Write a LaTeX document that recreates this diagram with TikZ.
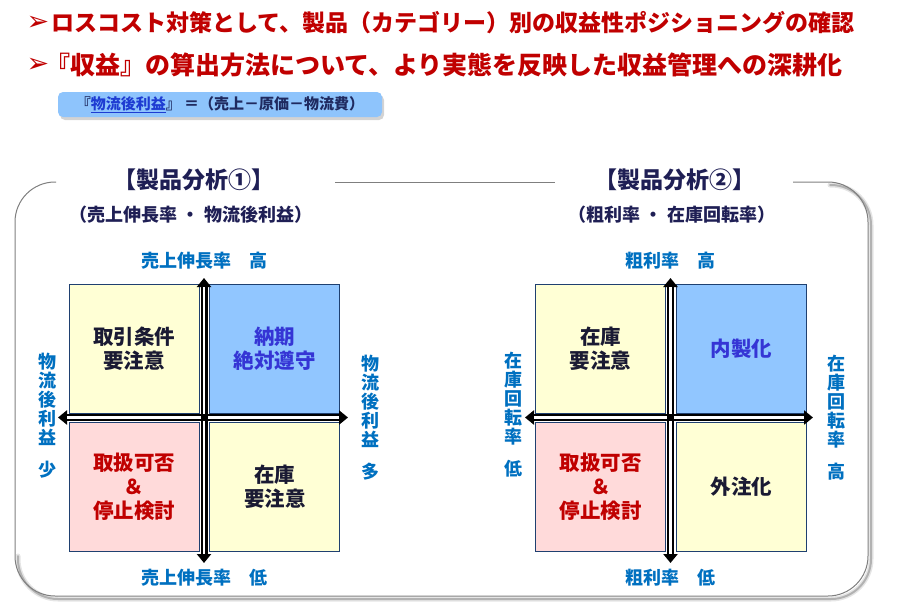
\documentclass[tikz,border=0pt]{standalone}
\usepackage{fontspec}
\setmainfont{Noto Sans CJK JP}[BoldFont={Noto Sans CJK JP Black}]
\newfontfamily\symfont{DejaVu Sans}
\usetikzlibrary{arrows.meta, shadows, positioning}
\definecolor{headred}{HTML}{C00000}
\definecolor{titlenavy}{HTML}{1F1F55}
\definecolor{axisblue}{HTML}{0070C0}
\definecolor{gridnavy}{HTML}{1F4070}
\definecolor{paleyellow}{HTML}{FFFFD5}
\definecolor{skyblue}{HTML}{91C6FF}
\definecolor{palepink}{HTML}{FFDADA}
\definecolor{keepblue}{HTML}{3535D5}
\definecolor{framegray}{HTML}{7F7F7F}
\definecolor{formulabg}{HTML}{8EC4FC}
\definecolor{formulanavy}{HTML}{1F2A60}
\definecolor{linkblue}{HTML}{1E3CD2}
\definecolor{textdark}{HTML}{1A1A33}

\begin{document}
\begin{tikzpicture}[x=1pt, y=-1pt,
  headmark/.style={inner sep=0pt, text=headred, font=\symfont\fontsize{27}{27}\selectfont},
  headline/.style={inner sep=0pt, anchor=west, text=headred, font=\fontsize{#1}{26}\selectfont\bfseries},
  formula/.style={fill=formulabg, rounded corners=5pt, minimum width=324pt, minimum height=25pt, inner sep=0pt,
    drop shadow={shadow xshift=2pt, shadow yshift=-3pt, opacity=0.35}, font=\fontsize{15}{16}\selectfont\bfseries},
  title/.style={inner sep=0pt, text=titlenavy, font=\fontsize{23}{25}\selectfont\bfseries},
  subtitle/.style={inner sep=0pt, text=titlenavy, font=\fontsize{18}{20}\selectfont\bfseries},
  frameline/.style={draw=framegray, line width=1pt, rounded corners=40pt},
  frameshadow/.style={line width=#1, rounded corners=40pt, line cap=round},
  quad/.style={draw=gridnavy, line width=0.8pt, minimum width=130pt, minimum height=129pt, inner sep=0pt,
    align=center, font=\fontsize{20.5}{24}\selectfont\bfseries},
  axislabel/.style={inner sep=0pt, text=axisblue, font=\fontsize{18}{20}\selectfont\bfseries},
  sidelabel/.style={inner sep=0pt, align=center, text=axisblue, font=\fontsize{18}{19}\selectfont\bfseries},
  axisout/.style={line width=7pt, black, {Triangle[width=14pt,length=9pt]}-{Triangle[width=14pt,length=9pt]}},
  axisin/.style={line width=2.5pt, white, shorten <=9pt, shorten >=9pt}
]
\useasboundingbox (0,0) rectangle (922,606);

\node[headmark] (mark1) at (38,23) {➢};
\node[headline=23] (head1) at (51,23) {ロスコスト対策として、製品（カテゴリー）別の収益性ポジショニングの確認};
\node[headmark] (mark2) at (38,65) {➢};
\node[headline=25] (head2) at (45,65) {『収益』の算出方法について、より実態を反映した収益管理への深耕化};

\node[formula] (formula) at (220,104.5) {\textcolor{formulanavy}{『}\textcolor{linkblue}{\underline{物流後利益}}\textcolor{formulanavy}{』 ＝（売上－原価－物流費）}};

\draw[frameshadow=5pt, gray!20] (18,556) -- (18,599) -- (871,599) -- (871,185) -- (830,185);
\draw[frameshadow=2pt, gray!60] (18,556) -- (18,599) -- (871,599) -- (871,185) -- (830,185);
\draw[frameline] (56,182) -- (15,182) -- (15,596) -- (868,596) -- (868,182) -- (793,182);
\draw[frameline] (335,182) -- (555,182);

\node[title] (title1) at (193.5,180) {【製品分析①】};
\node[subtitle] (sub1) at (191,215) {（売上伸長率 ・ 物流後利益）};
\node[title] (title2) at (674.5,180) {【製品分析②】};
\node[subtitle] (sub2) at (672,215) {（粗利率 ・ 在庫回転率）};

% matrix 1
\node[quad, fill=paleyellow, text=textdark] (q1tl) at (134,349) {取引条件\\要注意};
\node[quad, fill=skyblue, text=keepblue, right=10pt of q1tl] (q1tr) {納期\\絶対遵守};
\node[quad, fill=palepink, text=headred, below=8pt of q1tl] (q1bl) {取扱可否\\＆\\停止検討};
\node[quad, fill=paleyellow, text=textdark, below=8pt of q1tr] (q1br) {在庫\\要注意};

\coordinate (v1top) at (204,278);
\coordinate (v1bot) at (204,563);
\coordinate (h1left) at (58,417.5);
\coordinate (h1right) at (348,417.5);
\coordinate (c1) at (204,417.5);
\draw[axisout] (h1left) -- (h1right);
\draw[axisout] (v1top) -- (v1bot);
\draw[axisin] (h1left) -- (h1right);
\draw[axisin] (v1top) -- (v1bot);
\fill (c1) ++(-3.5,-3.5) rectangle ++(7,7);

\node[axislabel] (y1hi) at (204,261) {売上伸長率　高};
\node[axislabel] (y1lo) at (204,578) {売上伸長率　低};
\node[sidelabel] (x1lo) at (47,416) {物\\流\\後\\利\\益\\[13pt]少};
\node[sidelabel] (x1hi) at (370,418) {物\\流\\後\\利\\益\\[13pt]多};

% matrix 2
\node[quad, fill=paleyellow, text=textdark] (q2tl) at (600.5,349) {在庫\\要注意};
\node[quad, fill=skyblue, text=keepblue, right=10pt of q2tl] (q2tr) {内製化};
\node[quad, fill=palepink, text=headred, below=8pt of q2tl] (q2bl) {取扱可否\\＆\\停止検討};
\node[quad, fill=paleyellow, text=textdark, below=8pt of q2tr] (q2br) {外注化};

\coordinate (v2top) at (670.5,278);
\coordinate (v2bot) at (670.5,563);
\coordinate (h2left) at (525,417.5);
\coordinate (h2right) at (813,417.5);
\coordinate (c2) at (670.5,417.5);
\draw[axisout] (h2left) -- (h2right);
\draw[axisout] (v2top) -- (v2bot);
\draw[axisin] (h2left) -- (h2right);
\draw[axisin] (v2top) -- (v2bot);
\fill (c2) ++(-3.5,-3.5) rectangle ++(7,7);

\node[axislabel] (y2hi) at (670.5,261) {粗利率　高};
\node[axislabel] (y2lo) at (670.5,578) {粗利率　低};
\node[sidelabel] (x2lo) at (513,415) {在\\庫\\回\\転\\率\\[13pt]低};
\node[sidelabel] (x2hi) at (836,418) {在\\庫\\回\\転\\率\\[13pt]高};
\end{tikzpicture}
\end{document}
